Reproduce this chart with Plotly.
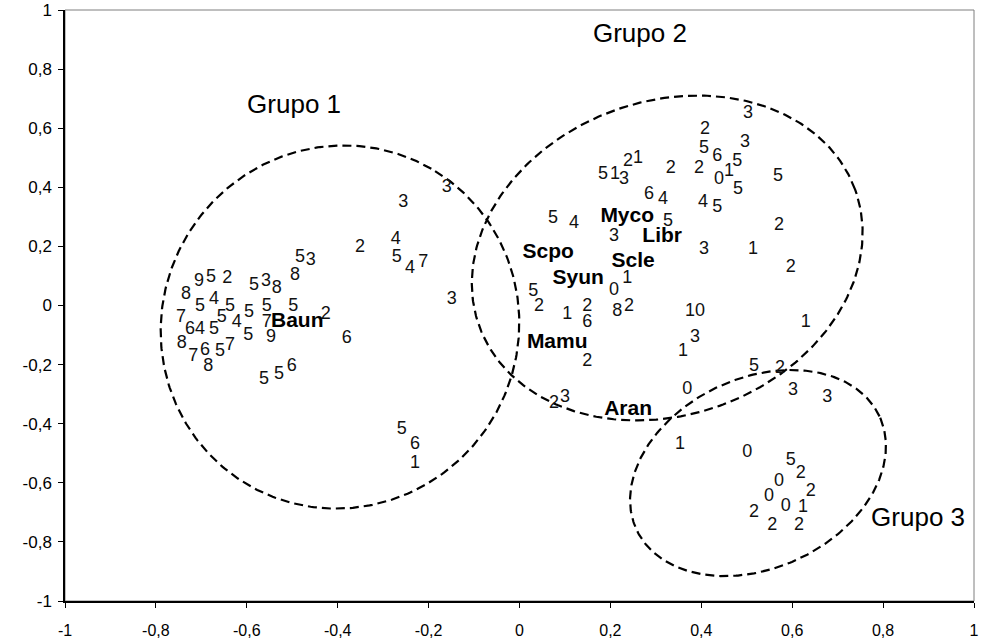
import numpy as np
import plotly.graph_objects as go

# ---------------- data ----------------
num_labels = [
    "5", "3", "2", "8", "9", "5", "2", "5", "3", "8",
    "8", "5", "4", "5", "5", "5", "5", "7", "6", "4",
    "5", "5", "4", "7", "2", "5", "9", "6", "8", "7",
    "6", "5", "7", "8", "5", "5", "6", "3", "3", "4",
    "5", "4", "7", "3", "5", "6", "1",
    "5", "4", "5", "6", "4", "4", "5", "3", "3", "1",
    "0", "5", "2", "1", "2", "6", "8", "2", "1", "0",
    "3", "1", "2", "0", "2", "3",
    "3", "2", "3", "5", "6", "5", "1", "0", "2", "5",
    "5", "2", "5", "1", "3", "2", "1", "2", "1", "2",
    "1", "5", "2", "3", "3",
    "1", "0", "5", "2", "0", "2", "0", "0", "1", "2",
    "2", "2",
]
num_x = [
    -0.483, -0.459, -0.351, -0.494, -0.705, -0.679, -0.643, -0.584, -0.558, -0.534,
    -0.734, -0.703, -0.672, -0.637, -0.595, -0.556, -0.498, -0.745, -0.725, -0.703,
    -0.672, -0.655, -0.622, -0.556, -0.426, -0.597, -0.547, -0.380, -0.743, -0.718,
    -0.692, -0.659, -0.637, -0.685, -0.562, -0.529, -0.501, -0.160, -0.256, -0.272,
    -0.270, -0.241, -0.212, -0.149, -0.259, -0.230, -0.230,
    0.074, 0.120, 0.327, 0.285, 0.316, 0.404, 0.435, 0.208, 0.406, 0.237,
    0.208, 0.030, 0.043, 0.105, 0.149, 0.149, 0.215, 0.241, 0.375, 0.397,
    0.386, 0.360, 0.149, 0.369, 0.076, 0.100,
    0.503, 0.408, 0.496, 0.406, 0.435, 0.479, 0.461, 0.439, 0.395, 0.481,
    0.569, 0.333, 0.184, 0.210, 0.230, 0.239, 0.261, 0.571, 0.514, 0.597,
    0.630, 0.516, 0.573, 0.602, 0.677,
    0.353, 0.501, 0.597, 0.619, 0.571, 0.641, 0.549, 0.586, 0.624, 0.516,
    0.556, 0.615,
]
num_y = [
    0.164, 0.151, 0.195, 0.100, 0.080, 0.096, 0.090, 0.069, 0.080, 0.056,
    0.036, -0.005, 0.019, -0.005, -0.025, -0.002, -0.002, -0.042, -0.080, -0.080,
    -0.080, -0.042, -0.056, -0.056, -0.032, -0.100, -0.107, -0.113, -0.130, -0.171,
    -0.151, -0.157, -0.134, -0.208, -0.252, -0.232, -0.205, 0.401, 0.350, 0.225,
    0.164, 0.124, 0.144, 0.019, -0.418, -0.469, -0.533,
    0.293, 0.279, 0.283, 0.374, 0.360, 0.347, 0.333, 0.232, 0.188, 0.093,
    0.052, 0.046, -0.002, -0.029, -0.002, -0.056, -0.019, -0.005, -0.019, -0.019,
    -0.107, -0.154, -0.188, -0.283, -0.330, -0.310,
    0.651, 0.597, 0.550, 0.530, 0.503, 0.489, 0.452, 0.425, 0.465, 0.391,
    0.435, 0.465, 0.442, 0.442, 0.425, 0.489, 0.499, 0.272, 0.191, 0.130,
    -0.059, -0.205, -0.212, -0.289, -0.313,
    -0.469, -0.499, -0.526, -0.567, -0.594, -0.631, -0.648, -0.679, -0.685, -0.702,
    -0.746, -0.746,
]

species = ["Baun", "Myco", "Libr", "Scpo", "Scle", "Syun", "Mamu", "Aran"]
species_x = [-0.489, 0.237, 0.314, 0.063, 0.250, 0.129, 0.083, 0.239]
species_y = [-0.056, 0.300, 0.232, 0.178, 0.147, 0.090, -0.127, -0.354]

group_names = ["Grupo 1", "Grupo 2", "Grupo 3"]
group_label_x = [-0.496, 0.265, 0.877]
group_label_y = [0.672, 0.915, -0.723]

# group ellipses: centre, semi-axes (in x-axis units, screen-isotropic), rotation (deg)
ell_cx = [-0.395, 0.325, 0.5248]
ell_cy = [-0.0728, 0.1607, -0.567]
ell_a = [0.402, 0.440, 0.295]
ell_b = [0.392, 0.345, 0.209]
ell_angle = [60, 20, 25]

tick_vals = [-1, -0.8, -0.6, -0.4, -0.2, 0, 0.2, 0.4, 0.6, 0.8, 1]
tick_text = ["-1", "-0,8", "-0,6", "-0,4", "-0,2", "0", "0,2", "0,4", "0,6", "0,8", "1"]

# ---------------- layout geometry ----------------
W, H = 984, 644
ML, MR, MT, MB = 65, 10, 10, 43
plot_w = W - ML - MR
plot_h = H - MT - MB
aspect = plot_w / plot_h  # y-units per x-unit for isotropic screen shapes

FONT = "Liberation Sans, Arial, Helvetica, sans-serif"

fig = go.Figure()

t = np.linspace(0, 2 * np.pi, 400)
for cx, cy, a, b, ang in zip(ell_cx, ell_cy, ell_a, ell_b, ell_angle):
    th = np.deg2rad(ang)
    dx = a * np.cos(t) * np.cos(th) - b * np.sin(t) * np.sin(th)
    dy = (a * np.cos(t) * np.sin(th) + b * np.sin(t) * np.cos(th)) * aspect
    fig.add_trace(go.Scatter(
        x=cx + dx, y=cy + dy, mode="lines",
        line=dict(color="black", width=2.2, dash="9px,5px"),
        hoverinfo="skip", showlegend=False,
    ))

fig.add_trace(go.Scatter(
    x=num_x, y=num_y, mode="text", text=num_labels,
    textposition="middle center",
    textfont=dict(family=FONT, size=18, color="#111111"),
    showlegend=False,
))

fig.add_trace(go.Scatter(
    x=species_x, y=species_y, mode="text", text=species,
    textposition="middle center",
    textfont=dict(family=FONT, size=21, color="#000000", weight="bold"),
    showlegend=False,
))

fig.add_trace(go.Scatter(
    x=group_label_x, y=group_label_y, mode="text", text=group_names,
    textposition="middle center",
    textfont=dict(family=FONT, size=26, color="#000000"),
    showlegend=False,
))

axis_common = dict(
    range=[-1, 1], tickvals=tick_vals, ticktext=tick_text,
    showgrid=False, zeroline=False, showline=True,
    linecolor="black", linewidth=1.5,
    ticks="outside", ticklen=5, tickcolor="black", tickwidth=1,
    fixedrange=True, automargin=False,
)

fig.update_layout(
    width=W, height=H,
    margin=dict(l=ML, r=MR, t=MT, b=MB),
    paper_bgcolor="white", plot_bgcolor="white",
    xaxis=dict(**axis_common, ticklabelstandoff=9,
               tickfont=dict(family=FONT, size=16, color="#000000")),
    yaxis=dict(**axis_common, ticklabelstandoff=3,
               tickfont=dict(family=FONT, size=17, color="#000000")),
    showlegend=False,
    shapes=[dict(type="rect", xref="paper", yref="paper", x0=0, x1=1, y0=0, y1=1,
                 line=dict(color="#7f7f7f", width=1), layer="below")],
)

fig.write_html(
    "out.html",
    config={"displayModeBar": False},
    post_script="document.body.style.margin='0';document.body.style.padding='0';",
)
